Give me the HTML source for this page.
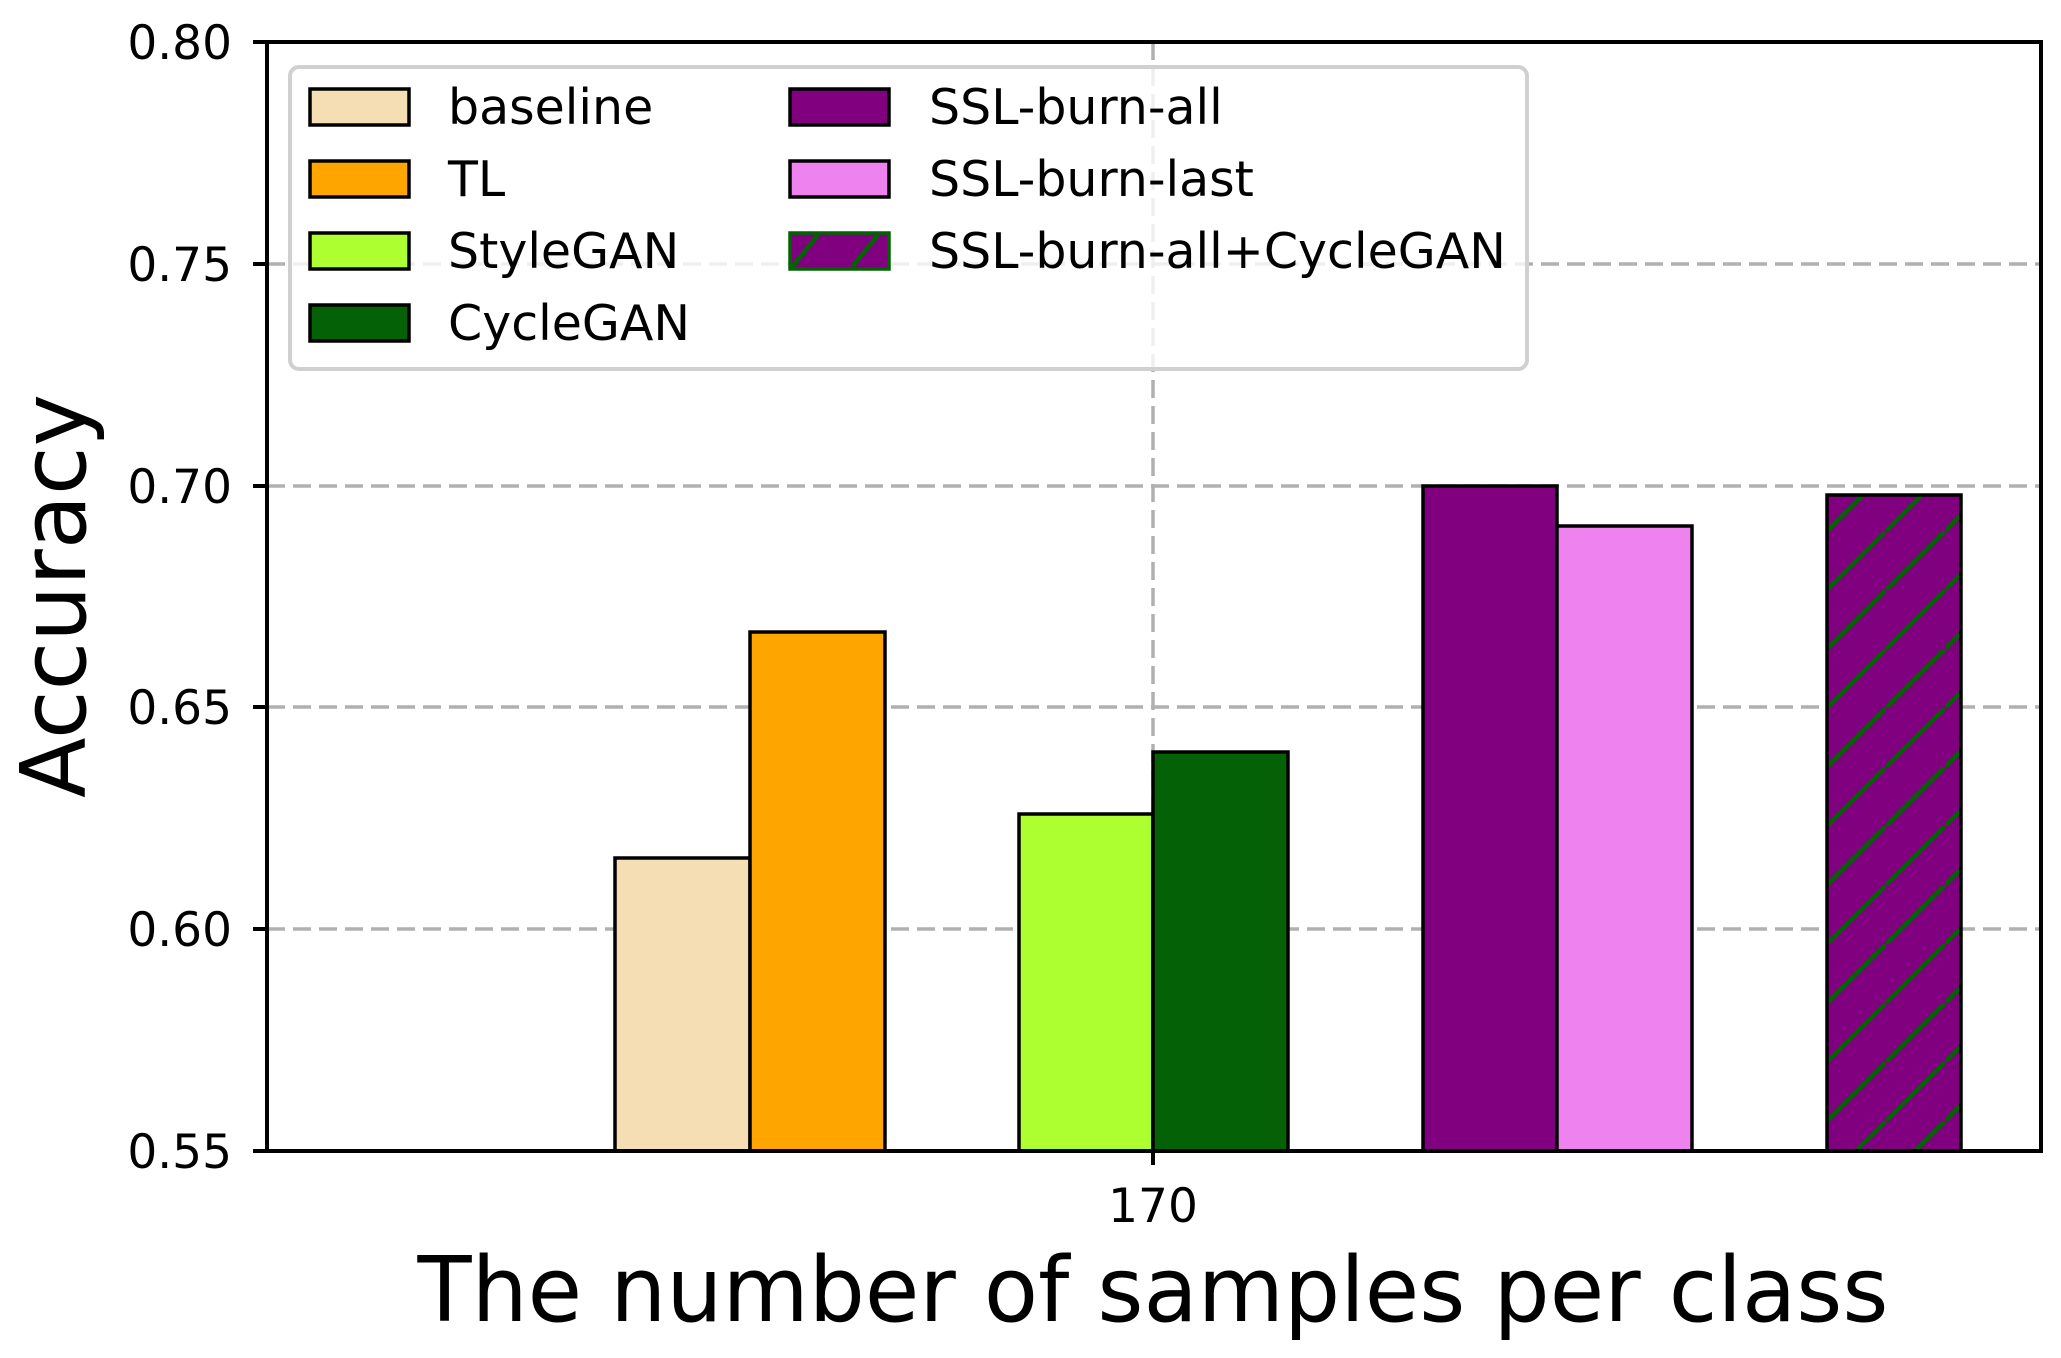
<!DOCTYPE html>
<html><head><meta charset="utf-8"><style>html,body{margin:0;padding:0;background:#fff}svg{display:block}</style></head>
<body>
<svg width="2061" height="1358" viewBox="0 0 2061 1358" xmlns="http://www.w3.org/2000/svg" font-family="'DejaVu Sans','Liberation Sans',sans-serif">
<defs>
<pattern id="h" patternUnits="userSpaceOnUse" width="59" height="59" x="1827" y="0">
<rect width="59" height="59" fill="#800080"/>
<line x1="-5" y1="64" x2="64" y2="-5" stroke="#006400" stroke-width="4.5"/>
</pattern>
</defs>
<rect width="2061" height="1358" fill="#fff"/>
<g stroke="#b0b0b0" stroke-width="3.5" stroke-dasharray="18,8">
<line x1="267" y1="264" x2="2041" y2="264"/>
<line x1="267" y1="486" x2="2041" y2="486"/>
<line x1="267" y1="707" x2="2041" y2="707"/>
<line x1="267" y1="929" x2="2041" y2="929"/>
<line x1="1153" y1="42" x2="1153" y2="1151"/>
</g>
<g stroke="#000" stroke-width="3.5">
<rect x="615" y="858" width="135" height="293" fill="#f5deb3"/>
<rect x="750" y="632" width="135" height="519" fill="#ffa500"/>
<rect x="1019" y="814" width="134" height="337" fill="#adff2f"/>
<rect x="1153" y="752" width="135" height="399" fill="#056105"/>
<rect x="1423" y="486" width="134" height="665" fill="#800080"/>
<rect x="1557" y="526" width="135" height="625" fill="#ee82ee"/>
<rect x="1827" y="495" width="134" height="656" fill="url(#h)"/>
</g>
<rect x="267" y="42" width="1774" height="1109" fill="none" stroke="#000" stroke-width="4"/>
<g stroke="#000" stroke-width="4">
<line x1="253" y1="42" x2="267" y2="42"/><line x1="253" y1="264" x2="267" y2="264"/>
<line x1="253" y1="486" x2="267" y2="486"/><line x1="253" y1="707" x2="267" y2="707"/>
<line x1="253" y1="929" x2="267" y2="929"/><line x1="253" y1="1151" x2="267" y2="1151"/>
<line x1="1153" y1="1151" x2="1153" y2="1165"/>
</g>
<g font-size="47" text-anchor="end">
<text x="232" y="59">0.80</text><text x="232" y="281">0.75</text>
<text x="232" y="503">0.70</text><text x="232" y="724">0.65</text>
<text x="232" y="946">0.60</text><text x="232" y="1168">0.55</text>
</g>
<text x="1153" y="1222" font-size="47" text-anchor="middle">170</text>
<text x="1153" y="1321" font-size="90" text-anchor="middle" textLength="1471" lengthAdjust="spacingAndGlyphs">The number of samples per class</text>
<text transform="translate(85,596) rotate(-90)" font-size="90" text-anchor="middle" textLength="404" lengthAdjust="spacingAndGlyphs">Accuracy</text>
<rect x="290" y="67" width="1237" height="302" rx="9" fill="#fff" fill-opacity="0.8" stroke="#d0d0d0" stroke-width="4"/>
<g stroke="#000" stroke-width="3.5">
<rect x="310" y="89" width="99" height="36" fill="#f5deb3"/>
<rect x="310" y="161" width="99" height="36" fill="#ffa500"/>
<rect x="310" y="233" width="99" height="36" fill="#adff2f"/>
<rect x="310" y="305" width="99" height="36" fill="#056105"/>
<rect x="790" y="89" width="99" height="36" fill="#800080"/>
<rect x="790" y="161" width="99" height="36" fill="#ee82ee"/>
</g>
<rect x="790" y="233" width="99" height="36" fill="#800080" stroke="#006400" stroke-width="3.5"/>
<g stroke="#006400" stroke-width="4.5"><line x1="792" y1="267" x2="818" y2="235"/><line x1="852" y1="267" x2="878" y2="235"/></g>
<g font-size="49">
<text x="448" y="124">baseline</text><text x="448" y="196">TL</text>
<text x="448" y="268">StyleGAN</text><text x="448" y="340">CycleGAN</text>
<text x="929" y="124">SSL-burn-all</text><text x="929" y="196">SSL-burn-last</text>
<text x="929" y="268">SSL-burn-all+CycleGAN</text>
</g>
</svg>
</body></html>
